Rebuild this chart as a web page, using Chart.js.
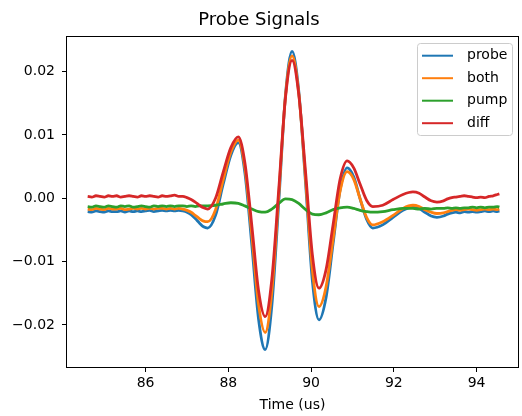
<!DOCTYPE html>
<html>
<head>
<meta charset="utf-8">
<title>Probe Signals</title>
<script src="https://cdn.jsdelivr.net/npm/chart.js@4.4.0/dist/chart.umd.min.js"></script>
<style>
  html, body { margin: 0; padding: 0; background: #fff; }
  canvas { display: block; }
</style>
</head>
<body>
<canvas id="probe_chart" width="522" height="416"></canvas>
<script>
// Time axis (us), shared by all four traces
const time = [
  84.6, 84.7, 84.8, 84.9, 85.0, 85.1, 85.2, 85.3, 85.4, 85.5,
  85.6, 85.7, 85.8, 85.9, 86.0, 86.1, 86.2, 86.3, 86.4, 86.5,
  86.6, 86.7, 86.8, 86.9, 87.0, 87.1, 87.2, 87.3, 87.4, 87.5,
  87.69, 87.87, 88.06, 88.24, 88.40, 88.57, 88.73, 88.89, 89.05, 89.22,
  89.38, 89.54, 89.70, 89.87, 90.03, 90.19, 90.36, 90.53, 90.70, 90.87,
  91.03, 91.18, 91.34, 91.49, 91.73, 91.98, 92.22, 92.46, 92.61, 92.75,
  92.90, 93.04,
  93.2, 93.3, 93.4, 93.5, 93.6, 93.7, 93.8, 93.9, 94.0, 94.1,
  94.2, 94.3, 94.4, 94.5, 94.55
];

const probe = [
  -0.0021, -0.0022, -0.0020, -0.0021, -0.0022, -0.0020, -0.0021, -0.0021, -0.0020, -0.0022,
  -0.0020, -0.0021, -0.0020, -0.0021, -0.0020, -0.0019, -0.0021, -0.0020, -0.0019, -0.0020,
  -0.0019, -0.0020, -0.0019, -0.0020, -0.0022, -0.0026, -0.0032, -0.0039, -0.0045, -0.0047,
  -0.0027, 0.0021, 0.0068, 0.0088, 0.0040, -0.0076, -0.0191, -0.0239, -0.0170, -0.0004,
  0.0163, 0.0232, 0.0170, 0.0020, -0.0130, -0.0192, -0.0157, -0.0072, 0.0013, 0.0048,
  0.0034, 0.0000, -0.0033, -0.0047, -0.0042, -0.0030, -0.0019, -0.0014, -0.0016, -0.0022,
  -0.0028, -0.0030,
  -0.0028, -0.0025, -0.0023, -0.0022, -0.0023, -0.0021, -0.0022, -0.0021, -0.0022, -0.0021,
  -0.0020, -0.0021, -0.0020, -0.0021, -0.0020
];

const both = [
  -0.0017, -0.0018, -0.0016, -0.0017, -0.0018, -0.0016, -0.0017, -0.0017, -0.0016, -0.0018,
  -0.0017, -0.0016, -0.0017, -0.0016, -0.0017, -0.0016, -0.0017, -0.0016, -0.0016, -0.0017,
  -0.0016, -0.0017, -0.0016, -0.0017, -0.0019, -0.0022, -0.0027, -0.0032, -0.0036, -0.0037,
  -0.0018, 0.0028, 0.0073, 0.0092, 0.0048, -0.0060, -0.0168, -0.0212, -0.0148, 0.0007,
  0.0161, 0.0225, 0.0167, 0.0027, -0.0113, -0.0171, -0.0140, -0.0065, 0.0011, 0.0042,
  0.0030, 0.0000, -0.0030, -0.0042, -0.0037, -0.0027, -0.0016, -0.0011, -0.0013, -0.0018,
  -0.0022, -0.0024,
  -0.0023, -0.0021, -0.0019, -0.0018, -0.0019, -0.0018, -0.0017, -0.0018, -0.0019, -0.0018,
  -0.0017, -0.0018, -0.0017, -0.0018, -0.0017
];

const pump = [
  -0.0013, -0.0014, -0.0012, -0.0013, -0.0014, -0.0012, -0.0013, -0.0014, -0.0012, -0.0013,
  -0.0012, -0.0014, -0.0013, -0.0012, -0.0013, -0.0014, -0.0012, -0.0013, -0.0012, -0.0013,
  -0.0012, -0.0013, -0.0012, -0.0012, -0.0013, -0.0012, -0.0013, -0.0012, -0.0012, -0.0012,
  -0.0011, -0.0009, -0.0007, -0.0008, -0.0012, -0.0017, -0.0021, -0.0022, -0.0017, -0.0008,
  -0.0001, -0.0002, -0.0008, -0.0018, -0.0025, -0.0026, -0.0023, -0.0018, -0.0015, -0.0014,
  -0.0016, -0.0019, -0.0021, -0.0022, -0.0021, -0.0018, -0.0016, -0.0016, -0.0017, -0.0016,
  -0.0017, -0.0016,
  -0.0016, -0.0015, -0.0016, -0.0015, -0.0016, -0.0015, -0.0015, -0.0014, -0.0015, -0.0014,
  -0.0015, -0.0014, -0.0014, -0.0013, -0.0014
];

const diff = [
  0.0003, 0.0002, 0.0004, 0.0003, 0.0002, 0.0004, 0.0003, 0.0004, 0.0002, 0.0003,
  0.0004, 0.0003, 0.0002, 0.0004, 0.0003, 0.0004, 0.0003, 0.0002, 0.0004, 0.0003,
  0.0004, 0.0005, 0.0003, 0.0003, 0.0001, -0.0002, -0.0006, -0.0011, -0.0015, -0.0017,
  0.0000, 0.0040, 0.0080, 0.0097, 0.0056, -0.0045, -0.0146, -0.0187, -0.0128, 0.0016,
  0.0159, 0.0218, 0.0165, 0.0038, -0.0089, -0.0142, -0.0113, -0.0042, 0.0030, 0.0059,
  0.0048, 0.0023, -0.0003, -0.0013, -0.0011, -0.0002, 0.0006, 0.0010, 0.0008, 0.0002,
  -0.0004, -0.0006,
  -0.0004, -0.0001, 0.0001, 0.0002, 0.0003, 0.0004, 0.0003, 0.0002, 0.0001, 0.0002,
  0.0001, 0.0003, 0.0004, 0.0006, 0.0007
];

const seriesNames = ["probe", "both", "pump", "diff"];
const xTicks = [86, 88, 90, 92, 94];
const yTicks = [-0.02, -0.01, 0.00, 0.01, 0.02];

const FONT = "'DejaVu Sans', sans-serif";
const colors = ["#1f77b4", "#ff7f0e", "#2ca02c", "#d62728"];
const allSeries = [probe, both, pump, diff];

const toPoints = (arr) => arr.map((v, i) => ({ x: time[i], y: v }));

// matplotlib-like frame + legend box
const frameAndLegend = {
  id: "frameAndLegend",
  afterDraw(chart) {
    const { ctx, chartArea: a } = chart;
    ctx.save();
    ctx.strokeStyle = "#000";
    ctx.lineWidth = 1;
    ctx.strokeRect(a.left - 0.5, a.top - 0.5, a.right - a.left + 1, a.bottom - a.top + 1);

    const w = 95, h = 92;
    const x0 = a.right - 6 - w, y0 = a.top + 6;
    ctx.beginPath();
    ctx.roundRect(x0 + 0.5, y0 + 0.5, w, h, 3);
    ctx.fillStyle = "rgba(255,255,255,0.8)";
    ctx.fill();
    ctx.strokeStyle = "#cccccc";
    ctx.stroke();

    ctx.font = "14px " + FONT;
    ctx.textBaseline = "middle";
    ctx.textAlign = "left";
    chart.data.datasets.forEach((ds, i) => {
      const y = y0 + 12.7 + i * 22.5;
      ctx.beginPath();
      ctx.moveTo(x0 + 5, y);
      ctx.lineTo(x0 + 36, y);
      ctx.strokeStyle = ds.borderColor;
      ctx.lineWidth = 2;
      ctx.stroke();
      ctx.fillStyle = "#000";
      ctx.fillText(ds.label, x0 + 50, y);
    });
    ctx.restore();
  },
};

const probe_chart = new Chart(document.getElementById("probe_chart"), {
  type: "line",
  data: {
    datasets: allSeries.map((arr, i) => ({
      label: seriesNames[i],
      data: toPoints(arr),
      borderColor: colors[i],
      backgroundColor: colors[i],
      borderWidth: 2.8,
      pointRadius: 0,
      cubicInterpolationMode: "monotone",
      fill: false,
      order: allSeries.length - i,
    })),
  },
  options: {
    responsive: false,
    animation: false,
    devicePixelRatio: 1,
    layout: { padding: { left: 0, right: 4, top: 0, bottom: 0 } },
    scales: {
      x: {
        type: "linear",
        min: 84.1,
        max: 95.0,
        afterBuildTicks: (s) => { s.ticks = xTicks.map((v) => ({ value: v })); },
        afterFit: (s) => { s.height = 49; },
        border: { display: false },
        grid: { display: true, drawOnChartArea: false, drawTicks: true, tickLength: 5, color: "#000" },
        ticks: {
          color: "#000",
          padding: 3,
          font: { family: FONT, size: 14 },
          maxRotation: 0,
          callback: (v) => String(v),
        },
        title: {
          display: true,
          text: "Time (us)",
          color: "#000",
          font: { family: FONT, size: 14 },
          padding: { top: 0, bottom: 2 },
        },
      },
      y: {
        type: "linear",
        min: -0.02665,
        max: 0.02548,
        afterBuildTicks: (s) => { s.ticks = yTicks.map((v) => ({ value: v })); },
        afterFit: (s) => { s.width = 67; },
        border: { display: false },
        grid: { display: true, drawOnChartArea: false, drawTicks: true, tickLength: 5, color: "#000" },
        ticks: {
          color: "#000",
          padding: 7,
          font: { family: FONT, size: 14 },
          callback: (v) => v.toFixed(2).replace("-", "\u2212"),
        },
      },
    },
    plugins: {
      legend: { display: false },
      tooltip: { enabled: false },
      title: {
        display: true,
        text: "Probe Signals",
        color: "#000",
        font: { family: FONT, size: 18, weight: "normal" },
        padding: { top: 10, bottom: 5.4 },
      },
    },
  },
  plugins: [frameAndLegend],
});
</script>
</body>
</html>
